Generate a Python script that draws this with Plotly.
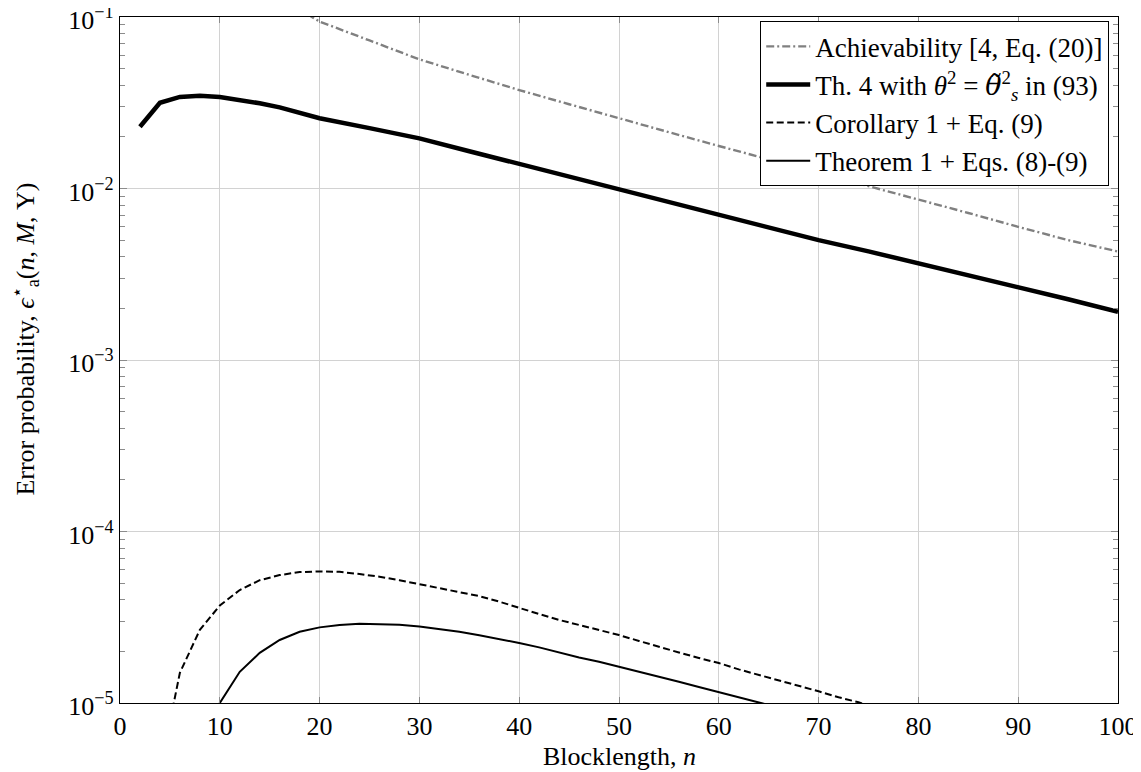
import plotly.graph_objects as go

# ---------------- data ----------------
ach_n = [16, 18, 20, 25, 30, 35, 40, 45, 50, 55, 60, 65, 70, 75, 80, 85, 90, 95, 100]
ach_e = [0.13, 0.11, 0.094, 0.073, 0.0566, 0.046, 0.0375, 0.031, 0.0256, 0.0213, 0.0177,
         0.0148, 0.0123, 0.0103, 0.00857, 0.0072, 0.00598, 0.0050, 0.00429]

th4_n = [2, 4, 6, 8, 10, 12, 14, 16, 18, 20, 25, 30, 35, 40, 45, 50, 55, 60, 65, 70, 75,
         80, 85, 90, 95, 100]
th4_e = [0.0229, 0.0316, 0.0342, 0.0347, 0.0342, 0.033, 0.0314, 0.0297, 0.0278, 0.0257,
         0.0225, 0.0196, 0.0165, 0.0139, 0.0117, 0.0098, 0.0083, 0.0070, 0.0059, 0.0050,
         0.0043, 0.00367, 0.00313, 0.00267, 0.00226, 0.00191]

cor_n = [4, 6, 8, 10, 12, 14, 16, 18, 20, 22, 24, 26, 28, 30, 32, 34, 36, 38, 40, 42, 44,
         46, 48, 50, 52, 54, 56, 58, 60, 62, 64, 66, 68, 70, 72, 74, 76]
cor_e = [4.0e-6, 1.5e-5, 2.67e-5, 3.7e-5, 4.56e-5, 5.2e-5, 5.57e-5, 5.8e-5, 5.85e-5, 5.82e-5,
         5.65e-5, 5.45e-5, 5.2e-5, 4.94e-5, 4.7e-5, 4.45e-5, 4.2e-5, 3.9e-5, 3.58e-5, 3.3e-5,
         3.05e-5, 2.85e-5, 2.65e-5, 2.49e-5, 2.3e-5, 2.12e-5, 1.97e-5, 1.83e-5, 1.71e-5,
         1.57e-5, 1.46e-5, 1.36e-5, 1.26e-5, 1.17e-5, 1.08e-5, 1.01e-5, 9.3e-6]

thm_n = [8, 10, 12, 14, 16, 18, 20, 22, 24, 26, 28, 30, 32, 34, 36, 38, 40, 42, 44, 46, 48,
         50, 52, 54, 56, 58, 60, 62, 64, 66]
thm_e = [5.0e-6, 1.0e-5, 1.52e-5, 1.96e-5, 2.33e-5, 2.6e-5, 2.76e-5, 2.85e-5, 2.9e-5, 2.89e-5,
         2.86e-5, 2.79e-5, 2.7e-5, 2.6e-5, 2.48e-5, 2.36e-5, 2.24e-5, 2.11e-5, 1.97e-5,
         1.84e-5, 1.74e-5, 1.63e-5, 1.53e-5, 1.43e-5, 1.33e-5, 1.24e-5, 1.16e-5, 1.08e-5,
         1.01e-5, 9.4e-6]

x_ticks = [0, 10, 20, 30, 40, 50, 60, 70, 80, 90, 100]
y_ticks = [1e-5, 1e-4, 1e-3, 1e-2, 1e-1]
y_ticktext = ["10<sup>−5</sup>", "10<sup>−4</sup>", "10<sup>−3</sup>", "10<sup>−2</sup>", "10<sup>−1</sup>"]

names = [
    "Achievability [4, Eq. (20)]",
    "Th. 4 with <i>θ</i><sup>2</sup> = <span style='font-family:DejaVu Serif;font-style:italic'>θ\u0303</span><sup>2</sup><sub><i>s</i></sub> in (93)",
    "Corollary 1 + Eq. (9)",
    "Theorem 1 + Eqs. (8)-(9)",
]
x_title = "Blocklength, <i>n</i>"
y_title = "Error probability, <i>ϵ</i><sup>⋆</sup><sub>a</sub>(<i>n</i>, <i>M</i>, Υ)"

FONT = "Liberation Serif, Times New Roman, serif"

fig = go.Figure()
fig.add_trace(go.Scatter(x=ach_n, y=ach_e, mode="lines", name=names[0],
                         line=dict(color="rgb(128,128,128)", width=2.4, dash="8px,3px,2px,3px")))
fig.add_trace(go.Scatter(x=th4_n, y=th4_e, mode="lines", name=names[1],
                         line=dict(color="black", width=4.5)))
fig.add_trace(go.Scatter(x=cor_n, y=cor_e, mode="lines", name=names[2],
                         line=dict(color="black", width=2, dash="7px,3.5px")))
fig.add_trace(go.Scatter(x=thm_n, y=thm_e, mode="lines", name=names[3],
                         line=dict(color="black", width=2)))

fig.update_layout(
    width=1133, height=764,
    margin=dict(l=112, r=23, t=9, b=69),
    paper_bgcolor="white", plot_bgcolor="white",
    font=dict(family=FONT, size=26, color="black"),
    showlegend=True,
    legend=dict(x=0.991, y=0.994, xanchor="right", yanchor="top",
                bgcolor="white", bordercolor="black", borderwidth=1.2,
                font=dict(family=FONT, size=27), tracegroupgap=0,
                itemwidth=44),
    annotations=[
        dict(text=x_title, xref="paper", yref="paper", x=0.5, y=-0.0787,
             xanchor="center", yanchor="middle", showarrow=False,
             font=dict(family=FONT, size=26)),
        dict(text=y_title, xref="paper", yref="paper", x=-0.095, y=0.53,
             xanchor="center", yanchor="middle", showarrow=False, textangle=-90,
             font=dict(family=FONT, size=26)),
    ],
)

fig.update_xaxes(
    range=[0, 100], tickvals=x_ticks, ticktext=[str(v) for v in x_ticks],
    showgrid=True, gridcolor="rgb(210,210,210)", gridwidth=1,
    showline=True, linecolor="black", linewidth=1.2, mirror="ticks",
    ticks="inside", ticklen=6, tickcolor="rgb(140,140,140)",
    zeroline=False, automargin=False, ticklabeloverflow="allow",
    tickfont=dict(family=FONT, size=26),
)
fig.update_yaxes(
    type="log", range=[-5, -1], tickvals=y_ticks, ticktext=y_ticktext,
    showgrid=True, gridcolor="rgb(210,210,210)", gridwidth=1,
    showline=True, linecolor="black", linewidth=1.2, mirror="ticks",
    ticks="inside", ticklen=7, tickcolor="rgb(140,140,140)",
    minor=dict(ticks="inside", ticklen=5, tickcolor="rgb(140,140,140)", showgrid=False,
               tickvals=[m * 10 ** e for e in range(-5, -1) for m in range(2, 10)]),
    zeroline=False, automargin=False, ticklabeloverflow="allow", ticklabelshift=3,
    tickfont=dict(family=FONT, size=26),
)

fig.write_html("out.html")
